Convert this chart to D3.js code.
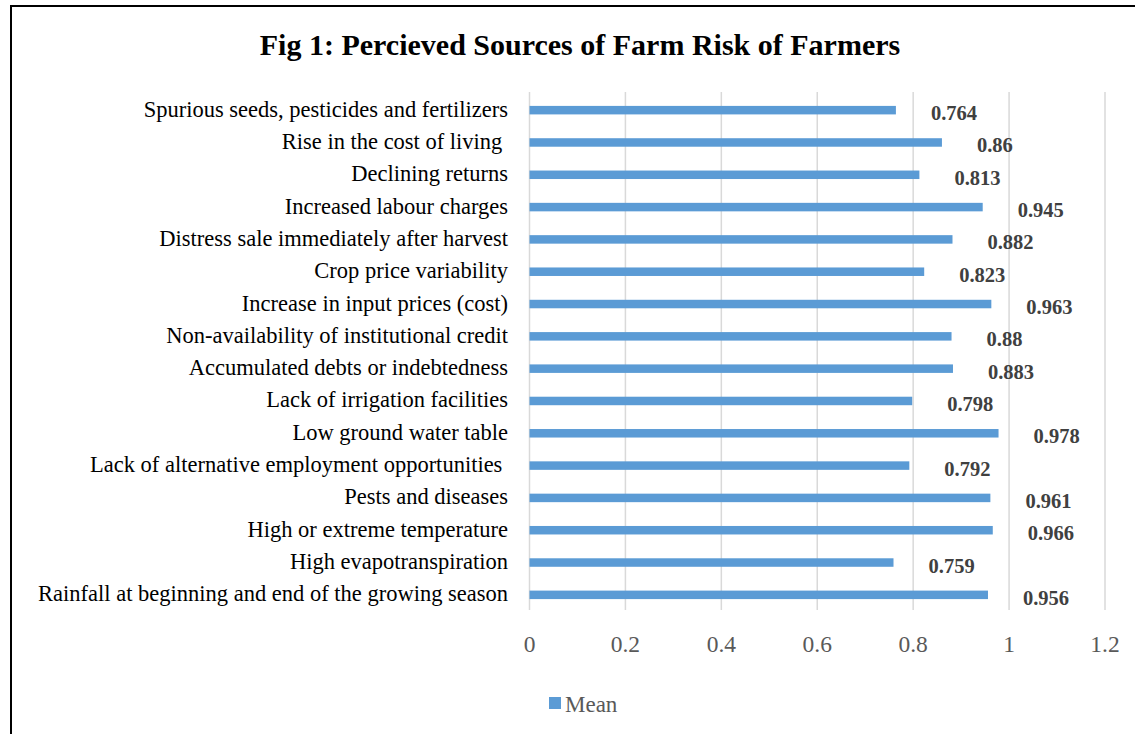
<!DOCTYPE html>
<html>
<head>
<meta charset="utf-8">
<script src="https://cdn.jsdelivr.net/npm/d3@7"></script>
<style>
  body { margin: 0; background: #fff; }
  text { font-family: "Liberation Serif", "Times New Roman", serif; white-space: pre; }
</style>
</head>
<body>
<svg></svg>
<script>
const width = 1135;
const height = 734;

// categories, top to bottom as in the figure
const sources = [
  "Spurious seeds, pesticides and fertilizers",
  "Rise in the cost of living ",
  "Declining returns",
  "Increased labour charges",
  "Distress sale immediately after harvest",
  "Crop price variability",
  "Increase in input prices (cost)",
  "Non-availability of institutional credit",
  "Accumulated debts or indebtedness",
  "Lack of irrigation facilities",
  "Low ground water table",
  "Lack of alternative employment opportunities ",
  "Pests and diseases",
  "High or extreme temperature",
  "High evapotranspiration",
  "Rainfall at beginning and end of the growing season"
];
const meanValues = [0.764, 0.86, 0.813, 0.945, 0.882, 0.823, 0.963, 0.88,
                    0.883, 0.798, 0.978, 0.792, 0.961, 0.966, 0.759, 0.956];
const tickValues = [0, 0.2, 0.4, 0.6, 0.8, 1, 1.2];

const rows = sources.map((s, i) => ({ source: s, mean: meanValues[i] }));

const svg = d3.select("svg")
  .attr("width", width)
  .attr("height", height);

svg.append("rect")
  .attr("width", width).attr("height", height)
  .attr("fill", "#fff");

// chart frame (only top and left edges visible)
svg.append("rect")
  .attr("x", 11).attr("y", 6)
  .attr("width", 1300).attr("height", 900)
  .attr("fill", "none")
  .attr("stroke", "#000")
  .attr("stroke-width", 2);

const x = d3.scaleLinear().domain([0, 1.2]).range([529.5, 1105]);
const y = d3.scaleBand().domain(sources).range([94, 611])
  .paddingInner(0.737).paddingOuter(0.3685);

// gridlines
svg.append("g")
  .selectAll("line")
  .data(tickValues)
  .join("line")
  .attr("x1", d => x(d)).attr("x2", d => x(d))
  .attr("y1", 92).attr("y2", 610)
  .attr("stroke", "#d9d9d9")
  .attr("stroke-width", 1.5);

// tick labels
svg.append("g")
  .selectAll("text")
  .data(tickValues)
  .join("text")
  .attr("x", d => x(d))
  .attr("y", 644)
  .attr("text-anchor", "middle")
  .attr("dominant-baseline", "central")
  .attr("font-size", 23.5)
  .attr("fill", "#595959")
  .text(d => d3.format("~g")(d));

// bars
svg.append("g")
  .selectAll("rect")
  .data(rows)
  .join("rect")
  .attr("x", x(0))
  .attr("y", d => y(d.source))
  .attr("width", d => x(d.mean) - x(0))
  .attr("height", y.bandwidth())
  .attr("fill", "#5b9bd5");

// category labels
svg.append("g")
  .selectAll("text")
  .data(rows)
  .join("text")
  .attr("x", 508)
  .attr("y", d => y(d.source) + y.bandwidth() / 2 - 1)
  .attr("text-anchor", "end")
  .attr("dominant-baseline", "central")
  .attr("font-size", 22.5)
  .attr("fill", "#000")
  .text(d => d.source);

// value labels
svg.append("g")
  .selectAll("text")
  .data(rows)
  .join("text")
  .attr("x", d => x(d.mean) + 35)
  .attr("y", d => y(d.source) + y.bandwidth() / 2 + 3)
  .attr("dominant-baseline", "central")
  .attr("font-size", 20.5)
  .attr("font-weight", "bold")
  .attr("fill", "#404040")
  .text(d => d.mean);

// title
svg.append("text")
  .attr("x", 580)
  .attr("y", 55)
  .attr("text-anchor", "middle")
  .attr("font-size", 30)
  .attr("font-weight", "bold")
  .attr("fill", "#000")
  .text("Fig 1: Percieved Sources of Farm Risk of Farmers");

// legend
const legend = svg.append("g").attr("transform", "translate(549,703)");
legend.append("rect")
  .attr("x", 0).attr("y", -6)
  .attr("width", 12).attr("height", 12)
  .attr("fill", "#5b9bd5");
legend.append("text")
  .attr("x", 16)
  .attr("y", 1)
  .attr("dominant-baseline", "central")
  .attr("font-size", 23)
  .attr("fill", "#595959")
  .text("Mean");
</script>
</body>
</html>
